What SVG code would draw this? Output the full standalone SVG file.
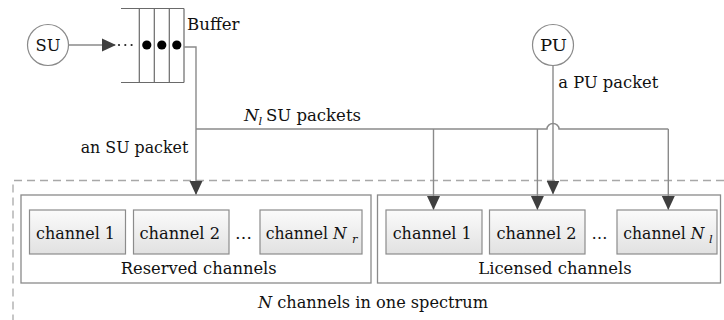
<svg xmlns="http://www.w3.org/2000/svg" width="724" height="320" viewBox="0 0 724 320">
<defs>
<linearGradient id="chg" x1="0" y1="0" x2="0" y2="1">
<stop offset="0" stop-color="#fbfbfb"/>
<stop offset="1" stop-color="#e1e1e1"/>
</linearGradient>
<marker id="arr" markerUnits="userSpaceOnUse" markerWidth="14" markerHeight="14" viewBox="0 0 14 14" refX="13" refY="7" orient="auto">
<path d="M0,0.5 L14,7 L0,13.5 z" fill="#3f3f3f"/>
</marker>
</defs>
<style>
.t{font-family:'DejaVu Serif',serif;font-size:17px;fill:#111;}
.i{font-style:italic;}
.sub{font-style:italic;font-size:11.5px;}
.circ{fill:#fff;stroke:#8a8a8a;stroke-width:1.2;}
.outer{fill:#fff;stroke:#8a8a8a;stroke-width:1.3;}
.ch{fill:url(#chg);stroke:#8c8c8c;stroke-width:1.2;}
.buf{fill:none;stroke:#6a6a6a;stroke-width:1.2;}
.con{fill:none;stroke:#8a8a8a;stroke-width:1.4;}
.dash{fill:none;stroke:#a8a8a8;stroke-width:1.3;stroke-dasharray:8,5;}
</style>

<path class="dash" d="M724,180.5 H13 V320"/>

<g id="reserved">
<rect class="outer" x="21" y="195" width="350" height="88"/>
<g id="res-ch1"><rect class="ch" x="29.5" y="210" width="96" height="44"/>
<text class="t" x="36" y="239" textLength="79" lengthAdjust="spacingAndGlyphs">channel 1</text></g>
<g id="res-ch2"><rect class="ch" x="133.5" y="210" width="95.5" height="44"/>
<text class="t" x="139.5" y="239" textLength="80.5" lengthAdjust="spacingAndGlyphs">channel 2</text></g>
<text class="t" x="235" y="239" textLength="17" lengthAdjust="spacingAndGlyphs">…</text>
<g id="res-chN"><rect class="ch" x="260" y="210" width="102" height="44"/>
<text class="t" x="265.7" y="239" textLength="81" lengthAdjust="spacingAndGlyphs">channel <tspan class="i">N</tspan></text>
<text class="t sub" x="352" y="243">r</text></g>
<text class="t" x="120.7" y="274" textLength="156" lengthAdjust="spacingAndGlyphs">Reserved channels</text>
</g>

<g id="licensed">
<rect class="outer" x="377.5" y="195" width="343" height="88"/>
<g id="lic-ch1"><rect class="ch" x="386" y="210" width="96" height="44"/>
<text class="t" x="392.7" y="239" textLength="79" lengthAdjust="spacingAndGlyphs">channel 1</text></g>
<g id="lic-ch2"><rect class="ch" x="489.5" y="210" width="95.5" height="44"/>
<text class="t" x="496.5" y="239" textLength="80" lengthAdjust="spacingAndGlyphs">channel 2</text></g>
<text class="t" x="591.5" y="239" textLength="16" lengthAdjust="spacingAndGlyphs">…</text>
<g id="lic-chN"><rect class="ch" x="617" y="210" width="100" height="44"/>
<text class="t" x="623.3" y="239" textLength="81" lengthAdjust="spacingAndGlyphs">channel <tspan class="i">N</tspan></text>
<text class="t sub" x="709" y="243">l</text></g>
<text class="t" x="478.3" y="274" textLength="153.4" lengthAdjust="spacingAndGlyphs">Licensed channels</text>
</g>

<text class="t" x="258" y="308" textLength="230" lengthAdjust="spacingAndGlyphs"><tspan class="i">N</tspan> channels in one spectrum</text>

<g id="su">
<circle class="circ" cx="48" cy="45" r="20.5"/>
<text class="t" x="35.5" y="51" textLength="25" lengthAdjust="spacingAndGlyphs">SU</text>
</g>

<g id="pu">
<circle class="circ" cx="553" cy="45" r="20.5"/>
<text class="t" x="540" y="51" textLength="27" lengthAdjust="spacingAndGlyphs">PU</text>
</g>

<g id="buffer">
<path class="buf" d="M121,8.5 H184 M121,82.5 H184 M139.3,8.5 V82.5 M154.3,8.5 V82.5 M169.3,8.5 V82.5 M184,8.5 V82.5"/>
<circle cx="146.8" cy="45" r="4.6" fill="#000"/>
<circle cx="161.8" cy="45" r="4.6" fill="#000"/>
<circle cx="176.8" cy="45" r="4.6" fill="#000"/>
<text class="t" x="187" y="29.5" textLength="52.5" lengthAdjust="spacingAndGlyphs">Buffer</text>
</g>

<g id="connectors">
<line class="con" x1="68.5" y1="45" x2="115" y2="45" marker-end="url(#arr)"/>
<circle cx="119" cy="45" r="1.1" fill="#222"/>
<circle cx="125.3" cy="45" r="1.1" fill="#222"/>
<circle cx="131.6" cy="45" r="1.1" fill="#222"/>
<path class="con" d="M184,47 H196 V194" marker-end="url(#arr)"/>
<path class="con" d="M196,129 H547 A6,5.5 0 0 1 559,129 H668.3"/>
<line class="con" x1="433.5" y1="129" x2="433.5" y2="209" marker-end="url(#arr)"/>
<line class="con" x1="537.4" y1="129" x2="537.4" y2="209" marker-end="url(#arr)"/>
<line class="con" x1="668.3" y1="129" x2="668.3" y2="209" marker-end="url(#arr)"/>
<line class="con" x1="553" y1="65.5" x2="553" y2="193.5" marker-end="url(#arr)"/>
</g>

<text class="t" x="558.3" y="88.3" textLength="100" lengthAdjust="spacingAndGlyphs">a PU packet</text>
<text class="t i" x="244" y="121.3">N</text>
<text class="t sub" x="258.5" y="125">l</text>
<text class="t" x="266" y="121.3" textLength="95" lengthAdjust="spacingAndGlyphs">SU packets</text>
<text class="t" x="80.7" y="152.7" textLength="107.6" lengthAdjust="spacingAndGlyphs">an SU packet</text>
</svg>
